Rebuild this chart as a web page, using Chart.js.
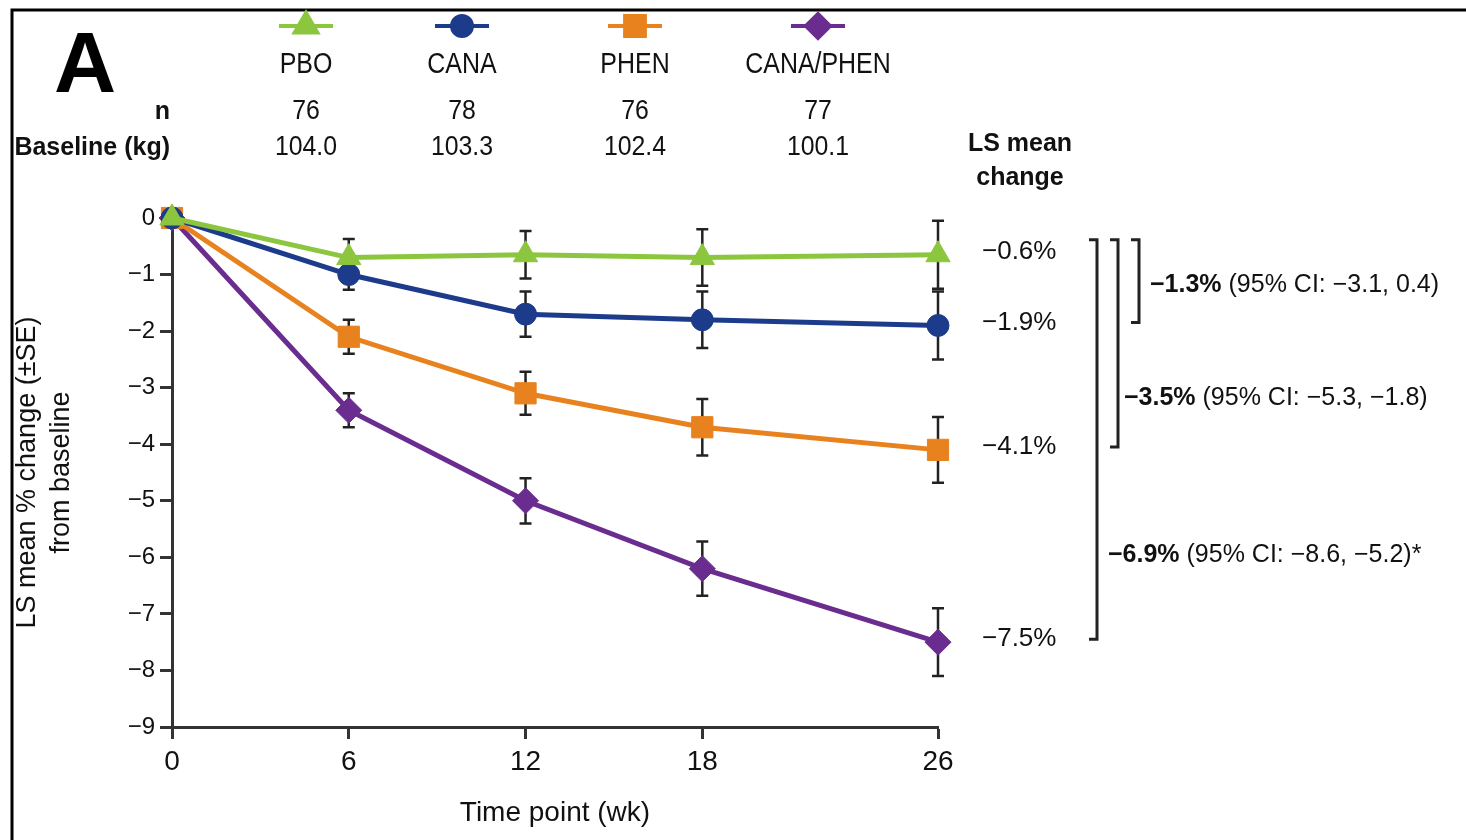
<!DOCTYPE html>
<html lang="en">
<head>
<meta charset="utf-8">
<script src="https://cdn.jsdelivr.net/npm/chart.js@4.4.1/dist/chart.umd.min.js"></script>
<style>
  html, body { margin: 0; padding: 0; background: #fff; }
  canvas { display: block; }
</style>
</head>
<body>
<canvas id="myChart" width="1466" height="840"></canvas>
<script>
// values
const weeks = [0, 6, 12, 18, 26];
const groups = ['PBO', 'CANA', 'PHEN', 'CANA/PHEN'];
const nValues = ['76', '78', '76', '77'];
const baselineKg = ['104.0', '103.3', '102.4', '100.1'];

const pbo      = [0, -0.7, -0.65, -0.7, -0.65];
const cana     = [0, -1.0, -1.7, -1.8, -1.9];
const phen     = [0, -2.1, -3.1, -3.7, -4.1];
const canaPhen = [0, -3.4, -5.0, -6.2, -7.5];

const pboSE      = [0, 0.33, 0.42, 0.5, 0.6];
const canaSE     = [0, 0.27, 0.4, 0.5, 0.6];
const phenSE     = [0, 0.3, 0.38, 0.5, 0.58];
const canaPhenSE = [0, 0.3, 0.4, 0.48, 0.6];

const lsMeanLabels = ['\u22120.6%', '\u22121.9%', '\u22124.1%', '\u22127.5%'];
const yTickValues = [0, -1, -2, -3, -4, -5, -6, -7, -8, -9];

// comparisons vs PBO (index of compared group)
const comparisons = [
  { group: 1, bold: '\u22121.3%', rest: ' (95% CI: \u22123.1, 0.4)' },
  { group: 2, bold: '\u22123.5%', rest: ' (95% CI: \u22125.3, \u22121.8)' },
  { group: 3, bold: '\u22126.9%', rest: ' (95% CI: \u22128.6, \u22125.2)*' }
];

const colors = ['#8cc63f', '#1d3b8b', '#e8821e', '#6a2d8f'];
const markers = ['triangle', 'circle', 'rect', 'rectRot'];
const markerRadius = [14, 11, 15, 13];
const series = [pbo, cana, phen, canaPhen];
const seList = [pboSE, canaSE, phenSE, canaPhenSE];

const FONT = "'Liberation Sans', Arial, sans-serif";
const INK = '#111';

function minus(v) {
  return v === 0 ? '0' : (v < 0 ? '\u2212' : '') + Math.abs(v);
}

// condensed-looking text for the header
function narrowText(ctx, text, x, y, sx) {
  ctx.save();
  ctx.translate(x, y);
  ctx.scale(sx, 1);
  ctx.fillText(text, 0, 0);
  ctx.restore();
}

const datasets = series.map((s, i) => ({
  label: groups[i],
  data: weeks.map((w, j) => ({ x: w, y: s[j] })),
  borderColor: colors[i],
  backgroundColor: colors[i],
  borderWidth: 5,
  pointStyle: markers[i],
  pointRadius: markerRadius[i],
  pointHoverRadius: markerRadius[i],
  pointBorderWidth: 1,
  tension: 0,
  clip: false
}));

// error bars, header, labels and brackets
const decor = {
  id: 'decor',
  beforeDatasetsDraw(chart) {
    const ctx = chart.ctx;
    const xs = chart.scales.x, ys = chart.scales.y;
    ctx.save();
    ctx.strokeStyle = '#222';
    ctx.lineWidth = 2.5;
    series.forEach((s, i) => {
      s.forEach((v, j) => {
        const se = seList[i][j];
        if (!se) return;
        const px = xs.getPixelForValue(weeks[j]);
        const top = ys.getPixelForValue(v + se);
        const bot = ys.getPixelForValue(v - se);
        ctx.beginPath();
        ctx.moveTo(px, top); ctx.lineTo(px, bot);
        ctx.moveTo(px - 6, top); ctx.lineTo(px + 6, top);
        ctx.moveTo(px - 6, bot); ctx.lineTo(px + 6, bot);
        ctx.stroke();
      });
    });
    ctx.restore();
  },
  afterDraw(chart) {
    const ctx = chart.ctx;
    const ys = chart.scales.y;
    const last = weeks.length - 1;
    ctx.save();

    // frame
    ctx.strokeStyle = '#000';
    ctx.lineWidth = 3;
    ctx.beginPath();
    ctx.moveTo(12, 840); ctx.lineTo(12, 10); ctx.lineTo(1466, 10);
    ctx.stroke();

    ctx.fillStyle = '#000';
    ctx.textAlign = 'center';
    ctx.textBaseline = 'alphabetic';
    ctx.font = 'bold 86px ' + FONT;
    ctx.fillText('A', 85, 92);

    // legend header
    const colX = [306, 462, 635, 818];
    groups.forEach((g, i) => {
      const cx = colX[i];
      ctx.strokeStyle = colors[i];
      ctx.fillStyle = colors[i];
      ctx.lineWidth = 4;
      ctx.beginPath();
      ctx.moveTo(cx - 27, 26); ctx.lineTo(cx + 27, 26);
      ctx.stroke();
      Chart.helpers.drawPoint(ctx, {
        pointStyle: markers[i], radius: markerRadius[i] - 1, rotation: 0, borderWidth: 1
      }, cx, 26);

      ctx.fillStyle = INK;
      ctx.textAlign = 'center';
      ctx.font = '29px ' + FONT;
      narrowText(ctx, g, cx, 73, 0.86);
      ctx.font = '27px ' + FONT;
      narrowText(ctx, nValues[i], cx, 119, 0.92);
      narrowText(ctx, baselineKg[i], cx, 155, 0.92);
    });

    ctx.fillStyle = INK;
    ctx.textAlign = 'right';
    ctx.font = 'bold 25px ' + FONT;
    ctx.fillText('n', 170, 119);
    ctx.fillText('Baseline (kg)', 170, 155);

    ctx.textAlign = 'center';
    ctx.fillText('LS mean', 1020, 151);
    ctx.fillText('change', 1020, 185);

    // LS mean change at week 26
    const labelY = series.map(s => ys.getPixelForValue(s[last]) - 3);
    ctx.textAlign = 'left';
    ctx.textBaseline = 'middle';
    ctx.font = '26px ' + FONT;
    lsMeanLabels.forEach((t, i) => ctx.fillText(t, 982, labelY[i]));

    // brackets vs PBO
    const bracketX = [1139, 1118, 1097];
    const textX = [1150, 1124, 1108];
    const textY = [285, 398, 555];
    ctx.strokeStyle = '#222';
    ctx.lineWidth = 3;
    comparisons.forEach((c, k) => {
      const bx = bracketX[k];
      const top = labelY[0] - 12;
      const bot = labelY[c.group];
      ctx.beginPath();
      ctx.moveTo(bx - 8, top); ctx.lineTo(bx, top);
      ctx.lineTo(bx, bot); ctx.lineTo(bx - 8, bot);
      ctx.stroke();

      ctx.fillStyle = INK;
      ctx.font = 'bold 25px ' + FONT;
      ctx.fillText(c.bold, textX[k], textY[k]);
      const w = ctx.measureText(c.bold).width;
      ctx.font = '25px ' + FONT;
      ctx.fillText(c.rest, textX[k] + w, textY[k]);
    });

    ctx.restore();
  }
};

const ctx = document.getElementById('myChart').getContext('2d');
const myChart = new Chart(ctx, {
  type: 'line',
  data: { datasets: datasets },
  options: {
    responsive: false,
    animation: false,
    devicePixelRatio: 1,
    layout: { padding: { left: 0, right: 528, top: 218, bottom: 0 } },
    plugins: { legend: { display: false }, tooltip: { enabled: false } },
    scales: {
      x: {
        type: 'linear',
        min: 0,
        max: 26,
        afterBuildTicks: s => { s.ticks = weeks.map(v => ({ value: v })); },
        afterFit: s => { s.height = 113; },
        grid: { drawOnChartArea: false, drawTicks: true, tickLength: 12, tickWidth: 3, color: '#333' },
        border: { display: true, color: '#333', width: 3 },
        ticks: { color: INK, padding: 6, font: { family: FONT, size: 28 }, maxRotation: 0 },
        title: {
          display: true,
          text: 'Time point (wk)',
          color: INK,
          font: { family: FONT, size: 28 },
          padding: { top: 0, bottom: 10 }
        }
      },
      y: {
        type: 'linear',
        min: -9,
        max: 0,
        afterBuildTicks: s => { s.ticks = yTickValues.map(v => ({ value: v })); },
        afterFit: s => { s.width = 172; },
        grid: { drawOnChartArea: false, drawTicks: true, tickLength: 12, tickWidth: 3, color: '#333' },
        border: { display: true, color: '#333', width: 3 },
        ticks: { color: INK, padding: 5, font: { family: FONT, size: 24 }, callback: v => minus(v) },
        title: {
          display: true,
          text: ['LS mean % change (\u00b1SE)', 'from baseline'],
          color: INK,
          font: { family: FONT, size: 27, lineHeight: 1.28 },
          padding: { top: 10, bottom: 0 }
        }
      }
    }
  },
  plugins: [decor]
});
</script>
</body>
</html>
